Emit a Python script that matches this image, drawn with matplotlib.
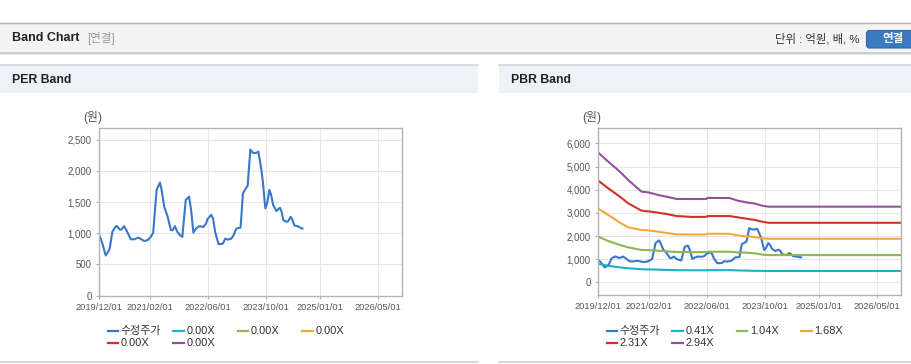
import matplotlib
matplotlib.use("Agg")
import matplotlib.pyplot as plt
import pandas as pd
from matplotlib.patches import Rectangle, FancyBboxPatch
from matplotlib.lines import Line2D
from matplotlib.ticker import FuncFormatter

plt.rcParams["font.family"] = ["Liberation Sans", "Noto Sans CJK KR"]

W, H = 912, 364

# ── Data ──────────────────────────────────────────────────────

price_dates = [
    "2019-12-01", "2019-12-23", "2020-01-24", "2020-02-12", "2020-02-26", "2020-03-20",
    "2020-04-09", "2020-04-25", "2020-05-21", "2020-06-04", "2020-06-26", "2020-07-16",
    "2020-08-22", "2020-09-19", "2020-10-23", "2020-11-14", "2020-12-12", "2021-01-07",
    "2021-02-01", "2021-02-26", "2021-03-27", "2021-04-24", "2021-05-08", "2021-05-30",
    "2021-06-28", "2021-07-26", "2021-08-09", "2021-08-28", "2021-09-17", "2021-10-10",
    "2021-10-29", "2021-11-27", "2021-12-25", "2022-01-11", "2022-01-30", "2022-02-19",
    "2022-03-19", "2022-04-25", "2022-05-17", "2022-05-29", "2022-06-29", "2022-07-15",
    "2022-08-01", "2022-08-30", "2022-10-05", "2022-10-25", "2022-11-16", "2022-12-15",
    "2023-01-03", "2023-01-26", "2023-03-03", "2023-03-23", "2023-04-12", "2023-05-02",
    "2023-05-24", "2023-06-16", "2023-07-11", "2023-07-31", "2023-08-11", "2023-08-25",
    "2023-09-08", "2023-09-20", "2023-09-28", "2023-10-12", "2023-11-01", "2023-11-15",
    "2023-12-02", "2023-12-30", "2024-01-28", "2024-02-11", "2024-02-25", "2024-03-24",
    "2024-04-07", "2024-04-27", "2024-05-11", "2024-05-28", "2024-06-23", "2024-07-15",
    "2024-08-04",
]
price_vals = [
    968, 860, 645, 699, 753, 1022,
    1086, 1118, 1059, 1059, 1113, 1048,
    903, 903, 930, 909, 876, 887,
    930, 1005, 1694, 1812, 1694, 1425,
    1263, 1048, 1048, 1113, 1022, 968,
    941, 1532, 1586, 1371, 1011, 1070,
    1113, 1102, 1156, 1226, 1296, 1231,
    1022, 823, 833, 914, 898, 914,
    968, 1075, 1091, 1640, 1704, 1763,
    2339, 2285, 2285, 2306, 2177, 2016,
    1801, 1532, 1398, 1478, 1694, 1613,
    1452, 1355, 1409, 1344, 1210, 1183,
    1194, 1263, 1220, 1124, 1113, 1091,
    1075,
]

band_dates = [
    "2019-12-01", "2020-02-23", "2020-05-31", "2020-08-09", "2020-11-29", "2021-01-24",
    "2021-04-18", "2021-06-27", "2021-09-19", "2022-01-22", "2022-05-25", "2022-06-10",
    "2022-12-10", "2023-02-18", "2023-04-29", "2023-07-12", "2023-09-09", "2023-11-04",
    "2026-11-22",
]
band_041 = [800, 715, 645, 610, 565, 558, 550, 535, 525, 520, 520, 525,
            525, 515, 505, 495, 495, 490, 490]
band_104 = [1971, 1784, 1612, 1511, 1396, 1392, 1367, 1338, 1309, 1305, 1305, 1322,
            1320, 1295, 1281, 1252, 1200, 1175, 1175]
band_168 = [3180, 2906, 2576, 2374, 2259, 2245, 2187, 2130, 2072, 2065, 2065, 2100,
            2095, 2029, 1986, 1957, 1900, 1880, 1880]
band_231 = [4388, 4058, 3698, 3410, 3094, 3065, 3007, 2950, 2863, 2825, 2825, 2860,
            2860, 2806, 2748, 2691, 2619, 2570, 2570]
band_294 = [5597, 5209, 4777, 4417, 3914, 3885, 3770, 3698, 3600, 3597, 3597, 3645,
            3640, 3525, 3453, 3400, 3309, 3266, 3266]

x_ticks = ["2019-12-01", "2021-02-01", "2022-06-01", "2023-10-01", "2025-01-01", "2026-05-01"]
x_tick_labels = ["2019/12/01", "2021/02/01", "2022/06/01", "2023/10/01", "2025/01/01", "2026/05/01"]
x_range = ["2019-12-01", "2026-11-22"]

per_yticks = [0, 500, 1000, 1500, 2000, 2500]
pbr_yticks = [0, 1000, 2000, 3000, 4000, 5000, 6000]

per_labels = ["수정주가", "0.00X", "0.00X", "0.00X", "0.00X", "0.00X"]
pbr_labels = ["수정주가", "0.41X", "1.04X", "1.68X", "2.31X", "2.94X"]
series_colors = ["#3a77c9", "#1eb0c6", "#8db654", "#f5a83a", "#d23127", "#94509c"]

# ── Figure & page chrome (pixel coordinates) ─────────────────

fig = plt.figure(figsize=(W / 100, H / 100), dpi=100)
bg = fig.add_axes([0, 0, 1, 1], zorder=-5)
bg.set_xlim(0, W)
bg.set_ylim(H, 0)
bg.axis("off")

bg.add_patch(Rectangle((0, 22), W, 31, fc="#f4f4f4", ec="none"))
bg.plot([0, W], [22.5, 22.5], color="#b4b4b4", lw=1.0)
bg.add_patch(Rectangle((0, 52), W, 1.5, fc="#cdcdcd", ec="none"))
bg.add_patch(Rectangle((0, 53.5), W, 1.5, fc="#e9e9e9", ec="none"))

bg.text(12, 38, "Band Chart", fontsize=9.0, fontweight="bold", color="#222222", va="center")
bg.text(87, 38.5, "[연결]", fontsize=8.3, color="#9a9a9a", va="center")
bg.text(860, 38.5, "단위 : 억원, 배, %", fontsize=8.2, color="#333333", va="center", ha="right")
bg.add_patch(FancyBboxPatch((866.5, 30.5), 50, 17.5, boxstyle="round,pad=0,rounding_size=3",
                            fc="#3b79c4", ec="#2d66ab", lw=0.8))
bg.text(893, 39, "연결", fontsize=8.3, fontweight="bold", color="white", va="center", ha="center")

for x0, x1, title in [(0, 478, "PER Band"), (499, 912, "PBR Band")]:
    bg.add_patch(Rectangle((x0, 64.5), x1 - x0, 28.5, fc="#eef2f6", ec="none"))
    bg.plot([x0, x1], [64.5, 64.5], color="#d4d6d9", lw=1.2)
    bg.plot([x0, x1], [361.5, 361.5], color="#d0d0d0", lw=1.2)
    bg.text(x0 + 12, 80, title, fontsize=8.8, fontweight="bold", color="#222222", va="center")


def to_dates(values):
    return pd.to_datetime(values)


def band_chart(box, ylim, yticks, labels, bands):
    left, top, right, bottom = box
    ax = fig.add_axes([left / W, 1 - bottom / H, (right - left) / W, (bottom - top) / H])
    ax.plot(to_dates(price_dates), price_vals, color=series_colors[0], lw=1.5)
    for vals, color in zip(bands, series_colors[1:]):
        ax.plot(to_dates(band_dates), vals, color=color, lw=1.5)

    ax.set_xlim(to_dates(x_range))
    ax.set_ylim(*ylim)
    ax.set_xticks(to_dates(x_ticks))
    ax.set_xticklabels(x_tick_labels)
    ax.set_yticks(yticks)
    ax.yaxis.set_major_formatter(FuncFormatter(lambda v, _: f"{v:,.0f}"))
    ax.grid(True, color="#e6e6e6", lw=0.75)
    ax.set_axisbelow(True)
    for sp in ax.spines.values():
        sp.set_color("#b4b4b4")
        sp.set_linewidth(1.0)
    ax.tick_params(axis="x", length=2.5, width=0.8, color="#b4b4b4",
                   labelsize=6.7, labelcolor="#555555", pad=2.6)
    ax.tick_params(axis="y", length=2.4, width=0.8, color="#b4b4b4",
                   labelsize=6.9, labelcolor="#555555", pad=3.0)

    # unit label
    bg.text(left - 16, 117, "(원)", fontsize=8.6, color="#555555", va="center")

    # legend, laid out row by row like the original widget
    col_off = [8.4, 74.2, 138.4, 203.0]
    row_y = [330.7, 343.3]
    for i, (lab, color) in enumerate(zip(labels, series_colors)):
        x0 = left + col_off[i % 4]
        y0 = row_y[i // 4]
        bg.add_line(Line2D([x0, x0 + 10.7], [y0, y0], color=color, lw=1.6))
        bg.text(x0 + 13, y0, lab, fontsize=7.9, color="#333333", va="center")
    return ax


band_chart((99.3, 128.3, 402.3, 295.7), (0, 2680), per_yticks, per_labels, [])
band_chart((598.3, 128.3, 901.0, 295.3), (-560, 6650), pbr_yticks, pbr_labels,
           [band_041, band_104, band_168, band_231, band_294])

fig.savefig("out.png", dpi=100)
